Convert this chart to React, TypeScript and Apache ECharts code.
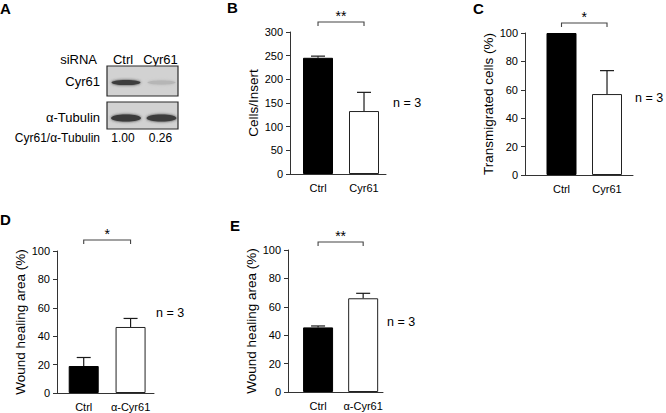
import React, { useEffect, useRef } from 'react';
import * as echarts from 'echarts';

// ---- data ----
const blotLanes = ['Ctrl', 'Cyr61'];
const blotRatio = ['1.00', '0.26'];

const catsBC = ['Ctrl', 'Cyr61'];
const catsDE = ['Ctrl', 'α-Cyr61'];

const valuesB = [245.5, 133];
const errorsB = [3.5, 39.5];
const valuesC = [100, 57];
const errorsC = [0, 16.5];
const valuesD = [19, 46.5];
const errorsD = [6, 6];
const valuesE = [45.5, 66];
const errorsE = [1, 3.5];

const sigB = '**';
const sigC = '*';
const sigD = '*';
const sigE = '**';

const nLabel = 'n = 3';

const FONT = 'Liberation Sans, Arial, sans-serif';

type Panel = {
  cats: string[];
  values: number[];
  errors: number[];
  sig: string;
  yName: string;
  yMax: number;
  yInterval: number;
  bracketLevel: number;
  grid: { left: number; top: number; width: number; height: number };
  xRange: [number, number];
  nameGap: number;
};

const panels: Panel[] = [
  { cats: catsBC, values: valuesB, errors: errorsB, sig: sigB, yName: 'Cells/Insert', yMax: 300, yInterval: 50, bracketLevel: 321,
    grid: { left: 290, top: 32, width: 96, height: 142 }, xRange: [0.391, 2.478], nameGap: 30 },
  { cats: catsBC, values: valuesC, errors: errorsC, sig: sigC, yName: 'Transmigrated cells (%)', yMax: 100, yInterval: 20, bracketLevel: 107,
    grid: { left: 525, top: 33, width: 108, height: 142 }, xRange: [0.198, 2.571], nameGap: 18 },
  { cats: catsDE, values: valuesD, errors: errorsD, sig: sigD, yName: 'Wound healing area (%)', yMax: 100, yInterval: 20, bracketLevel: 107.7,
    grid: { left: 57, top: 251, width: 97, height: 142 }, xRange: [0.43, 2.5], nameGap: 29 },
  { cats: catsDE, values: valuesE, errors: errorsE, sig: sigE, yName: 'Wound healing area (%)', yMax: 100, yInterval: 20, bracketLevel: 105.6,
    grid: { left: 288, top: 250, width: 95, height: 142 }, xRange: [0.333, 2.44], nameGap: 26 },
];

const AXIS = '#333';
const TXT = '#000';

function buildOption() {
  const grids: any[] = [];
  const xAxes: any[] = [];
  const yAxes: any[] = [];
  const series: any[] = [];

  panels.forEach((p, gi) => {
    grids.push({ ...p.grid, containLabel: false, outerBoundsMode: 'none' });
    xAxes.push({
      gridIndex: gi,
      type: 'value',
      min: p.xRange[0],
      max: p.xRange[1],
      axisLine: { show: true, onZero: false, lineStyle: { color: AXIS, width: 1 } },
      axisTick: { show: false },
      splitLine: { show: false },
      axisLabel: {
        customValues: [1, 2],
        formatter: (v: number) => p.cats[Math.round(v) - 1] ?? '',
        margin: 8,
        fontSize: 11,
        fontFamily: FONT,
        color: TXT,
      },
    });
    yAxes.push({
      gridIndex: gi,
      type: 'value',
      min: 0,
      max: p.yMax,
      interval: p.yInterval,
      axisLine: { show: true, lineStyle: { color: AXIS, width: 1 } },
      axisTick: { show: true, length: 4, lineStyle: { color: AXIS, width: 1 } },
      splitLine: { show: false },
      axisLabel: { margin: 7, fontSize: 11, fontFamily: FONT, color: TXT },
      name: p.yName,
      nameLocation: 'middle',
      nameGap: p.nameGap,
      nameTextStyle: { fontSize: 13.5, fontFamily: FONT, color: TXT },
    });

    series.push({
      type: 'bar',
      xAxisIndex: gi,
      yAxisIndex: gi,
      barWidth: 30,
      z: 2,
      data: p.values.map((v, i) => ({
        value: [i + 1, v],
        itemStyle: i === 0
          ? { color: '#000', borderColor: '#000', borderWidth: 1 }
          : { color: '#fff', borderColor: '#222', borderWidth: 1 },
      })),
    });

    series.push({
      type: 'custom',
      xAxisIndex: gi,
      yAxisIndex: gi,
      z: 3,
      clip: false,
      encode: { x: 0, y: 1 },
      data: p.values.map((v, i) => [i + 1, v, p.errors[i]]),
      renderItem: (params: any, api: any) => {
        const x = api.value(0);
        const y = api.value(1);
        const e = api.value(2);
        if (!e) return { type: 'group', children: [] };
        const base = api.coord([x, y]);
        const top = api.coord([x, y + e]);
        const c = 7;
        const st = { stroke: '#1a1a1a', lineWidth: 1.2 };
        return {
          type: 'group',
          children: [
            { type: 'line', shape: { x1: base[0], y1: base[1], x2: top[0], y2: top[1] }, style: st },
            { type: 'line', shape: { x1: top[0] - c, y1: top[1], x2: top[0] + c, y2: top[1] }, style: st },
          ],
        };
      },
    });

    series.push({
      type: 'custom',
      xAxisIndex: gi,
      yAxisIndex: gi,
      z: 3,
      clip: false,
      encode: { x: [0, 1], y: 2 },
      data: [[1, 2, p.bracketLevel]],
      renderItem: (params: any, api: any) => {
        const a = api.coord([api.value(0), api.value(2)]);
        const b = api.coord([api.value(1), api.value(2)]);
        const d = 4;
        return {
          type: 'group',
          children: [
            {
              type: 'polyline',
              shape: { points: [[a[0], a[1] + d], [a[0], a[1]], [b[0], b[1]], [b[0], b[1] + d]] },
              style: { stroke: '#444', lineWidth: 1.1, fill: 'none' },
            },
            {
              type: 'text',
              style: {
                text: p.sig,
                x: (a[0] + b[0]) / 2,
                y: a[1] - 6.5,
                align: 'center',
                verticalAlign: 'middle',
                fontSize: 14,
                fontFamily: FONT,
                fill: TXT,
              },
            },
          ],
        };
      },
    });
  });

  const letter = (t: string, x: number, y: number) => ({
    type: 'text',
    style: { text: t, x, y, fontSize: 15, fontWeight: 'bold', fontFamily: FONT, fill: '#000', verticalAlign: 'middle' },
  });
  const txt = (t: string, x: number, y: number, align: string, size = 12.5) => ({
    type: 'text',
    style: { text: t, x, y, align, verticalAlign: 'middle', fontSize: size, fontFamily: FONT, fill: TXT },
  });
  const band = (cx: number, cy: number, rx: number, ry: number, color: string) => ({
    type: 'ellipse',
    shape: { cx, cy, rx, ry },
    style: { fill: color, shadowBlur: 3, shadowColor: color },
  });

  const laneX = [126, 161.5];

  const graphic: any[] = [
    letter('A', 0, 8),
    letter('B', 227, 7.5),
    letter('C', 473, 8),
    letter('D', 0, 219.5),
    letter('E', 230, 225),
    // panel A blot
    txt('siRNA', 97, 59, 'right', 13),
    txt(blotLanes[0], laneX[0] - 3, 59, 'center', 13),
    txt(blotLanes[1], laneX[1] - 1, 59, 'center', 13),
    {
      type: 'rect',
      shape: { x: 107, y: 66, width: 71, height: 30 },
      style: { fill: '#d2d2d2', stroke: '#2a2a2a', lineWidth: 1.2 },
    },
    band(laneX[0], 82.5, 14.5, 2.6, '#3c3c3c'),
    band(laneX[1], 82.5, 14, 2, '#b6b6b6'),
    txt('Cyr61', 100, 81, 'right', 13),
    {
      type: 'rect',
      shape: { x: 107, y: 102, width: 71, height: 27 },
      style: { fill: '#d2d2d2', stroke: '#2a2a2a', lineWidth: 1.2 },
    },
    band(laneX[0], 118, 15, 3.6, '#3a3a3a'),
    band(laneX[1], 118, 15, 3.6, '#3e3e3e'),
    txt('α-Tubulin', 100, 117, 'right', 13),
    txt('Cyr61/α-Tubulin', 100, 137.5, 'right', 12),
    txt(blotRatio[0], laneX[0] - 3, 137.5, 'center', 12),
    txt(blotRatio[1], laneX[1] - 1, 137.5, 'center', 12),
    // n = 3 labels
    txt(nLabel, 393, 103, 'left'),
    txt(nLabel, 635, 97.5, 'left'),
    txt(nLabel, 156, 313, 'left'),
    txt(nLabel, 387, 321.5, 'left'),
  ];

  return {
    animation: false,
    backgroundColor: '#fff',
    grid: grids,
    xAxis: xAxes,
    yAxis: yAxes,
    series,
    graphic,
  };
}

export default function App() {
  const ref = useRef<HTMLDivElement>(null);
  useEffect(() => {
    if (!ref.current) return;
    const chart = echarts.init(ref.current, null, { renderer: 'svg' });
    chart.setOption(buildOption() as any);
    return () => chart.dispose();
  }, []);
  return (
    <div
      ref={ref}
      style={{ position: 'fixed', left: 0, top: 0, width: 666, height: 413, background: '#fff' }}
    />
  );
}
